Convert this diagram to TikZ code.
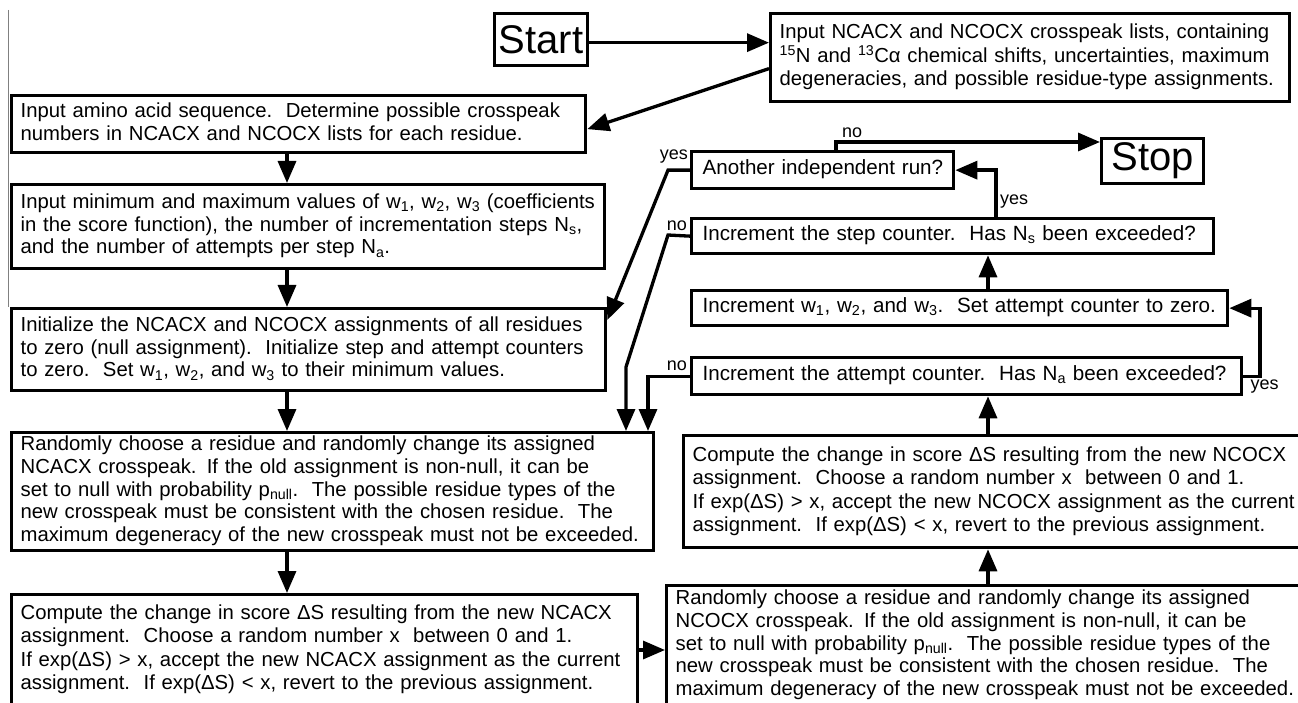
\documentclass[tikz,border=0pt]{standalone}
\usepackage{fontspec}
\setmainfont{Liberation Sans}
\usetikzlibrary{arrows.meta,calc}
\newcommand\boxlines[1]{\begin{tabular}{@{}l@{}}#1\end{tabular}}
\begin{document}
\begin{tikzpicture}[x=1pt,y=-1pt,
  box/.style={draw, line width=3.3pt, anchor=north west, align=left, inner xsep=9pt, inner ysep=0pt,
    font=\fontsize{20.3}{22.7}\selectfont},
  wide/.style={font=\fontsize{20.3}{23.4}\selectfont},
  one/.style={font=\fontsize{20.6}{23}\selectfont, inner xsep=11pt},
  big/.style={draw, line width=3.3pt, anchor=north west, inner sep=0pt, font=\fontsize{40}{42}\selectfont},
  arr/.style={line width=3.3pt, -{Triangle[length=22pt,width=18pt]}},
  lab/.style={font=\fontsize{18}{20}\selectfont, inner sep=1pt}]
\useasboundingbox (0,0) rectangle (1298,703);
\draw[gray, line width=1pt] (8,10) -- (8,307);
% boxes
\node[big, minimum width=93pt, minimum height=52pt] (start) at (493,12) {Start};
\node[box, minimum width=519pt, minimum height=88pt, text width=501pt] (inp) at (769,12)
 {\boxlines{Input NCACX and NCOCX crosspeak lists, containing\\
  \textsuperscript{15}N and \textsuperscript{13}Cα chemical shifts, uncertainties, maximum\\
  degeneracies, and possible residue-type assignments.}};
\node[box, minimum width=574pt, minimum height=57pt, text width=556pt] (b1) at (10,94)
 {\boxlines{Input amino acid sequence.\ \ Determine possible crosspeak\\
  numbers in NCACX and NCOCX lists for each residue.}};
\node[box, minimum width=593pt, minimum height=84pt, text width=575pt] (b2) at (10,183)
 {\boxlines{Input minimum and maximum values of w\textsubscript{1}, w\textsubscript{2}, w\textsubscript{3} (coefficients\\
  in the score function), the number of incrementation steps N\textsubscript{s},\\
  and the number of attempts per step N\textsubscript{a}.}};
\node[box, minimum width=594pt, minimum height=82pt, text width=576pt] (b3) at (10,307)
 {\boxlines{Initialize the NCACX and NCOCX assignments of all residues\\
  to zero (null assignment).\ \ Initialize step and attempt counters\\
  to zero.\ \ Set w\textsubscript{1}, w\textsubscript{2}, and w\textsubscript{3} to their minimum values.}};
\node[box, minimum width=642pt, minimum height=118pt, text width=624pt] (b4) at (10,431)
 {\boxlines{Randomly choose a residue and randomly change its assigned\\
  NCACX crosspeak. If the old assignment is non-null, it can be\\
  set to null with probability p\textsubscript{null}.\ \ The possible residue types of the\\
  new crosspeak must be consistent with the chosen residue.\ \ The\\
  maximum degeneracy of the new crosspeak must not be exceeded.}};
\node[box, wide, minimum width=626pt, minimum height=120pt, text width=608pt] (b5) at (10,593)
 {\boxlines{Compute the change in score ΔS resulting from the new NCACX\\
  assignment.\ \ Choose a random number x\ \ between 0 and 1.\\
  If exp(ΔS) > x, accept the new NCACX assignment as the current\\
  assignment.\ \ If exp(ΔS) < x, revert to the previous assignment.\\[10pt]}};
\node[box, minimum width=645pt, minimum height=124pt, text width=627pt] (b6) at (665,584)
 {\boxlines{Randomly choose a residue and randomly change its assigned\\
  NCOCX crosspeak. If the old assignment is non-null, it can be\\
  set to null with probability p\textsubscript{null}.\ \ The possible residue types of the\\
  new crosspeak must be consistent with the chosen residue.\ \ The\\
  maximum degeneracy of the new crosspeak must not be exceeded.\\[4pt]}};
\node[box, wide, minimum width=628pt, minimum height=112pt, text width=610pt] (b7) at (682,434)
 {\boxlines{Compute the change in score ΔS resulting from the new NCOCX\\
  assignment.\ \ Choose a random number x\ \ between 0 and 1.\\
  If exp(ΔS) > x, accept the new NCOCX assignment as the current\\
  assignment.\ \ If exp(ΔS) < x, revert to the previous assignment.}};
\node[box, one, minimum width=550pt, minimum height=37pt, text width=528pt] (b8) at (690,356)
 {\boxlines{Increment the attempt counter.\ \ Has N\textsubscript{a} been exceeded?}};
\node[box, one, minimum width=536pt, minimum height=35pt, text width=514pt] (b9) at (690,289)
 {\boxlines{Increment w\textsubscript{1}, w\textsubscript{2}, and w\textsubscript{3}.\ \ Set attempt counter to zero.}};
\node[box, one, minimum width=522pt, minimum height=35pt, text width=500pt] (b10) at (690,217)
 {\boxlines{Increment the step counter.\ \ Has N\textsubscript{s} been exceeded?}};
\node[box, one, minimum width=262pt, minimum height=37pt, text width=240pt] (b11) at (690,150)
 {\boxlines{Another independent run?}};
\node[big, minimum width=102pt, minimum height=45pt] (stop) at (1100,137) {Stop};
% helper coordinates
\coordinate (cl) at (287,0);
\coordinate (cr) at (988,0);
% connectors
\draw[arr] ([yshift=-3pt]start.east) -- ([yshift=-3pt]start.east -| inp.west);
\draw[arr] ([yshift=-11pt]inp.west) -- ([yshift=-5pt]b1.east);
\draw[arr] (b1.south -| cl) -- (b2.north -| cl);
\draw[arr] (b2.south -| cl) -- (b3.north -| cl);
\draw[arr] (b3.south -| cl) -- (b4.north -| cl);
\draw[arr] (b4.south -| cl) -- (b5.north -| cl);
\draw[arr] (b5.east |- 0,650) -- (b6.west |- 0,650);
\draw[arr] (b6.north -| cr) -- (b7.south -| cr);
\draw[arr] (b7.north -| cr) -- (b8.south -| cr);
\draw[arr] (b9.north -| cr) -- (b10.south -| cr);
% yes loop attempt -> increment w
\coordinate (y1) at (1260,0);
\draw[arr] (b8.east) -- (b8.east -| y1) -- (b9.east -| y1) -- (b9.east);
\node[lab, anchor=north west] (ly1) at ([xshift=6pt,yshift=-2pt]b8.east) {yes};
% yes step -> another
\coordinate (y2) at (996,0);
\draw[arr] (b10.north -| y2) -- (b11.east -| y2) -- (b11.east);
\node[lab, anchor=west] (ly2) at (999,202) {yes};
% no another -> stop
\coordinate (n1) at (836,142);
\draw[arr] (b11.north -| n1) -- (n1) -- (n1 -| stop.west);
\node[lab, anchor=south] (ln1) at (852,139) {no};
% yes another -> init
\coordinate (y3) at (668,0);
\draw[arr] (b11.west) -- (b11.west -| y3) -- ([yshift=-13pt]b3.north east);
\node[lab, anchor=south east] (ly3) at (689,164) {yes};
% no step -> random NCACX
\coordinate (n2a) at (668,235);
\coordinate (n2b) at (626,367);
\draw[arr] (b10.west) -- (n2a) -- (n2b) -- (n2b |- b4.north);
\node[lab, anchor=south east] (ln2) at (688,232) {no};
% no attempt -> random NCACX
\coordinate (n3) at (648,0);
\draw[arr] (b8.west) -- (b8.west -| n3) -- (n3 |- b4.north);
\node[lab, anchor=south east] (ln3) at (688,372) {no};
\end{tikzpicture}
\end{document}
